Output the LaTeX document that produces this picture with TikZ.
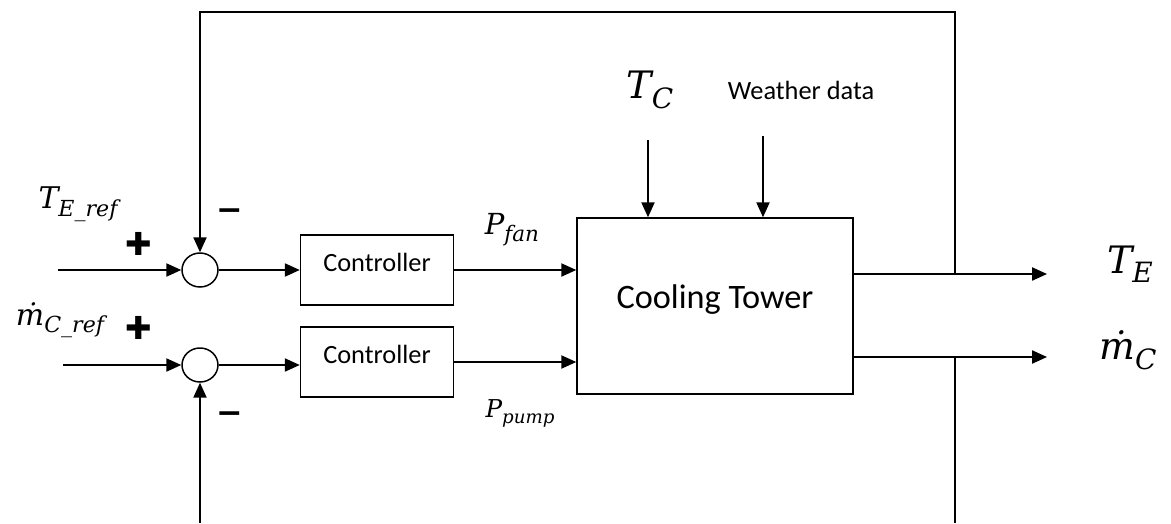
\documentclass[tikz,border=0pt]{standalone}
\usepackage{fontspec}
\setmainfont{Carlito}
\newfontfamily\signfont{DejaVu Sans}
\newfontfamily\varfont{DejaVu Serif}
\usepackage{tikz}
\usetikzlibrary{arrows.meta,shapes.geometric}

% italic symbol with a subscript
\newcommand\varsub[2]{{\varfont\itshape #1\raisebox{-0.25em}{\scalebox{0.74}{#2}}}}

\tikzset{
  sumnode/.style={draw, ellipse, minimum width=7.2mm, minimum height=6.8mm, inner sep=0pt},
  ctrlbox/.style={draw, minimum width=30.6mm, minimum height=14mm, text depth=3.2mm,
    font=\fontsize{15}{18}\selectfont},
  towerbox/.style={draw, minimum width=55.2mm, minimum height=35.2mm, text depth=3.8mm,
    font=\fontsize{19.5}{23}\selectfont},
  biglbl/.style={font=\fontsize{21.5}{24}\selectfont},
  midlbl/.style={font=\fontsize{17}{20}\selectfont},
  sign/.style={font=\signfont\bfseries\fontsize{18}{20}\selectfont}
}

\begin{document}
\begin{tikzpicture}[x=0.2mm, y=-0.2mm, line width=0.85pt, >={Triangle[length=8.5pt,width=7.5pt]}]
  \useasboundingbox (0,0) rectangle (1171,523);
  % blocks
  \node[sumnode] (sum1) at (200,270) {};
  \node[sumnode] (sum2) at (200,365) {};
  \node[ctrlbox] (ctrl1) at (377,270) {Controller};
  \node[ctrlbox] (ctrl2) at (377,362) {Controller};
  \node[towerbox] (tower) at (715,306) {Cooling Tower};

  % labels
  \node[midlbl] (trefl) at (78,204) {\varsub{T}{E\_ref}};
  \node[midlbl] (mrefl) at (60,320) {\varsub{ṁ}{C\_ref}};
  \node[sign] (plus1) at (139,244) {✚};
  \node[sign] (plus2) at (139,328) {✚};
  \node[sign] (minus1) at (230,215) {−};
  \node[sign] (minus2) at (230,418) {−};
  \node[font=\fontsize{16.5}{19}\selectfont] (pfan) at (512,230) {\varsub{P}{fan}};
  \node[font=\fontsize{14}{16}\selectfont] (ppump) at (520,413) {\varsub{P}{pump}};
  \node[biglbl] (tcl) at (650,90) {\varsub{T}{C}};
  \node[font=\fontsize{15}{18}\selectfont] (wdl) at (801,90) {Weather data};
  \node[biglbl] (tel) at (1130,264) {\varsub{T}{E}};
  \node[biglbl] (mcl) at (1128,350) {\varsub{ṁ}{C}};

  % free ends
  \coordinate (in1) at (58,270);
  \coordinate (in2) at (63,365);
  \coordinate (tcin) at (648,140);
  \coordinate (wdin) at (763,136);
  \coordinate (outT) at (1047,274);
  \coordinate (outM) at (1047,357);
  \coordinate (tapT) at (955,274);
  \coordinate (tapM) at (955,357);
  \coordinate (topR) at (955,12);
  \coordinate (botR) at (955,523);
  \coordinate (botL) at (200,523);

  % signal lines
  \draw[->] (in1) -- (sum1.west);
  \draw[->] (in2) -- (sum2.west);
  \draw[->] (sum1.east) -- (sum1.east -| ctrl1.west);
  \draw[->] (sum2.east) -- (sum2.east -| ctrl2.west);
  \draw[->] (ctrl1.east) -- (ctrl1.east -| tower.west);
  \draw[->] (ctrl2.east) -- (ctrl2.east -| tower.west);
  \draw[->] (tcin) -- (tcin |- tower.north);
  \draw[->] (wdin) -- (wdin |- tower.north);
  \draw[->] (outT -| tower.east) -- (outT);
  \draw[->] (outM -| tower.east) -- (outM);

  % feedback
  \draw[->] (tapT) -- (topR) -| (sum1.north);
  \draw (tapM) -- (botR);
  \draw[->] (botL) -- (sum2.south);
\end{tikzpicture}
\end{document}
